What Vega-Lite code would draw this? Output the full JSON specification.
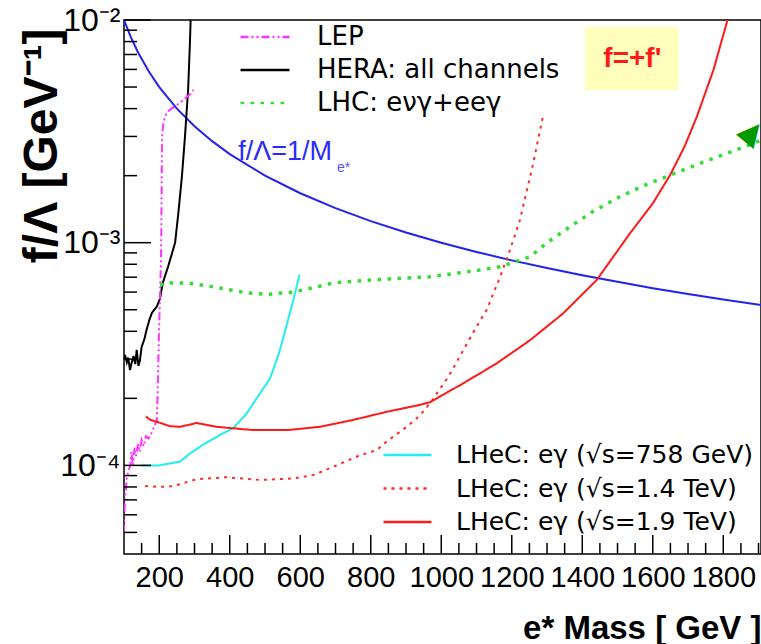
{
  "$schema": "https://vega.github.io/schema/vega-lite/v6.json",
  "width": 637,
  "height": 534,
  "autosize": {"type": "none"},
  "padding": {"left": 124, "top": 20, "right": 0, "bottom": 90},
  "background": "white",
  "config": {"view": {"stroke": "black", "strokeWidth": 1.5}, "axis": {"grid": false}},
  "datasets": {
    "notes": [{"t": "f=+f'", "m": 1542, "f": 0.00668}],
    "xminor": [{"m": 150, "f": 0.00004}, {"m": 250, "f": 0.00004}, {"m": 300, "f": 0.00004}, {"m": 350, "f": 0.00004}, {"m": 450, "f": 0.00004}, {"m": 500, "f": 0.00004}, {"m": 550, "f": 0.00004}, {"m": 650, "f": 0.00004}, {"m": 700, "f": 0.00004}, {"m": 750, "f": 0.00004}, {"m": 850, "f": 0.00004}, {"m": 900, "f": 0.00004}, {"m": 950, "f": 0.00004}, {"m": 1050, "f": 0.00004}, {"m": 1100, "f": 0.00004}, {"m": 1150, "f": 0.00004}, {"m": 1250, "f": 0.00004}, {"m": 1300, "f": 0.00004}, {"m": 1350, "f": 0.00004}, {"m": 1450, "f": 0.00004}, {"m": 1500, "f": 0.00004}, {"m": 1550, "f": 0.00004}, {"m": 1650, "f": 0.00004}, {"m": 1700, "f": 0.00004}, {"m": 1750, "f": 0.00004}, {"m": 1850, "f": 0.00004}, {"m": 1900, "f": 0.00004}],
    "xmajor": [{"m": 200, "f": 0.00004}, {"m": 400, "f": 0.00004}, {"m": 600, "f": 0.00004}, {"m": 800, "f": 0.00004}, {"m": 1000, "f": 0.00004}, {"m": 1200, "f": 0.00004}, {"m": 1400, "f": 0.00004}, {"m": 1600, "f": 0.00004}, {"m": 1800, "f": 0.00004}],
    "yminor": [{"m": 100, "f": 0.00005}, {"m": 100, "f": 0.00006}, {"m": 100, "f": 0.00007}, {"m": 100, "f": 0.00008}, {"m": 100, "f": 0.00009}, {"m": 100, "f": 0.0002}, {"m": 100, "f": 0.0003}, {"m": 100, "f": 0.0004}, {"m": 100, "f": 0.0005}, {"m": 100, "f": 0.0006}, {"m": 100, "f": 0.0007}, {"m": 100, "f": 0.0008}, {"m": 100, "f": 0.0009}, {"m": 100, "f": 0.002}, {"m": 100, "f": 0.003}, {"m": 100, "f": 0.004}, {"m": 100, "f": 0.005}, {"m": 100, "f": 0.006}, {"m": 100, "f": 0.007}, {"m": 100, "f": 0.008}, {"m": 100, "f": 0.009}],
    "ymajor": [{"m": 100, "f": 0.0001}, {"m": 100, "f": 0.001}, {"m": 100, "f": 0.01}]
  },
  "data": {"values": [
    {"s": "B", "m": 100, "f": 0.01}, {"s": "B", "m": 120, "f": 0.008333}, {"s": "B", "m": 140, "f": 0.007143}, {"s": "B", "m": 170, "f": 0.005882}, {"s": "B", "m": 200, "f": 0.005}, {"s": "B", "m": 250, "f": 0.004}, {"s": "B", "m": 300, "f": 0.003333}, {"s": "B", "m": 350, "f": 0.002857}, {"s": "B", "m": 400, "f": 0.0025}, {"s": "B", "m": 500, "f": 0.002}, {"s": "B", "m": 600, "f": 0.001667}, {"s": "B", "m": 700, "f": 0.001429}, {"s": "B", "m": 800, "f": 0.00125}, {"s": "B", "m": 900, "f": 0.001111}, {"s": "B", "m": 1000, "f": 0.001}, {"s": "B", "m": 1100, "f": 0.000909}, {"s": "B", "m": 1200, "f": 0.000833}, {"s": "B", "m": 1300, "f": 0.000769}, {"s": "B", "m": 1400, "f": 0.000714}, {"s": "B", "m": 1500, "f": 0.000667}, {"s": "B", "m": 1600, "f": 0.000625}, {"s": "B", "m": 1700, "f": 0.000588}, {"s": "B", "m": 1800, "f": 0.000556}, {"s": "B", "m": 1910, "f": 0.000524},

    {"s": "HERA", "m": 100, "f": 0.0003}, {"s": "HERA", "m": 103, "f": 0.000313}, {"s": "HERA", "m": 108, "f": 0.00029}, {"s": "HERA", "m": 112, "f": 0.000305}, {"s": "HERA", "m": 117, "f": 0.000268}, {"s": "HERA", "m": 122, "f": 0.00029}, {"s": "HERA", "m": 127, "f": 0.00031}, {"s": "HERA", "m": 132, "f": 0.000285}, {"s": "HERA", "m": 136, "f": 0.00033}, {"s": "HERA", "m": 141, "f": 0.00028}, {"s": "HERA", "m": 145, "f": 0.000295}, {"s": "HERA", "m": 150, "f": 0.00034}, {"s": "HERA", "m": 158, "f": 0.00037}, {"s": "HERA", "m": 164, "f": 0.000406}, {"s": "HERA", "m": 172, "f": 0.00045}, {"s": "HERA", "m": 179, "f": 0.000483}, {"s": "HERA", "m": 186, "f": 0.0005}, {"s": "HERA", "m": 193, "f": 0.000516}, {"s": "HERA", "m": 202, "f": 0.00056}, {"s": "HERA", "m": 210, "f": 0.00066}, {"s": "HERA", "m": 225, "f": 0.00078}, {"s": "HERA", "m": 245, "f": 0.001}, {"s": "HERA", "m": 255, "f": 0.0014}, {"s": "HERA", "m": 264, "f": 0.00196}, {"s": "HERA", "m": 273, "f": 0.003}, {"s": "HERA", "m": 282, "f": 0.0049}, {"s": "HERA", "m": 287, "f": 0.0079}, {"s": "HERA", "m": 289, "f": 0.01},

    {"s": "LEP", "m": 99.5, "f": 0.00005}, {"s": "LEP", "m": 101, "f": 0.00006}, {"s": "LEP", "m": 103, "f": 0.000072}, {"s": "LEP", "m": 106, "f": 0.00008}, {"s": "LEP", "m": 108, "f": 0.000088}, {"s": "LEP", "m": 113, "f": 0.000095}, {"s": "LEP", "m": 118, "f": 0.0001}, {"s": "LEP", "m": 121, "f": 0.000115}, {"s": "LEP", "m": 125, "f": 0.0001}, {"s": "LEP", "m": 130, "f": 0.00012}, {"s": "LEP", "m": 134, "f": 0.00011}, {"s": "LEP", "m": 140, "f": 0.000125}, {"s": "LEP", "m": 144, "f": 0.000115}, {"s": "LEP", "m": 150, "f": 0.00013}, {"s": "LEP", "m": 156, "f": 0.000122}, {"s": "LEP", "m": 162, "f": 0.000135}, {"s": "LEP", "m": 170, "f": 0.000132}, {"s": "LEP", "m": 178, "f": 0.00014}, {"s": "LEP", "m": 186, "f": 0.00015}, {"s": "LEP", "m": 193, "f": 0.00016}, {"s": "LEP", "m": 195, "f": 0.0002}, {"s": "LEP", "m": 197, "f": 0.00028}, {"s": "LEP", "m": 199, "f": 0.00038}, {"s": "LEP", "m": 201, "f": 0.0005}, {"s": "LEP", "m": 203, "f": 0.00065}, {"s": "LEP", "m": 205, "f": 0.00085}, {"s": "LEP", "m": 206, "f": 0.0012}, {"s": "LEP", "m": 207, "f": 0.002}, {"s": "LEP", "m": 208, "f": 0.003}, {"s": "LEP", "m": 212, "f": 0.0035}, {"s": "LEP", "m": 220, "f": 0.0038}, {"s": "LEP", "m": 230, "f": 0.00395}, {"s": "LEP", "m": 250, "f": 0.00415}, {"s": "LEP", "m": 268, "f": 0.00437}, {"s": "LEP", "m": 285, "f": 0.0046}, {"s": "LEP", "m": 297, "f": 0.00485},

    {"s": "LHC", "m": 202, "f": 0.000645}, {"s": "LHC", "m": 230, "f": 0.00066}, {"s": "LHC", "m": 278, "f": 0.00066}, {"s": "LHC", "m": 350, "f": 0.000635}, {"s": "LHC", "m": 448, "f": 0.000595}, {"s": "LHC", "m": 505, "f": 0.000586}, {"s": "LHC", "m": 580, "f": 0.0006}, {"s": "LHC", "m": 640, "f": 0.00063}, {"s": "LHC", "m": 694, "f": 0.00066}, {"s": "LHC", "m": 800, "f": 0.00068}, {"s": "LHC", "m": 968, "f": 0.000703}, {"s": "LHC", "m": 1100, "f": 0.00075}, {"s": "LHC", "m": 1167, "f": 0.00078}, {"s": "LHC", "m": 1223, "f": 0.000835}, {"s": "LHC", "m": 1252, "f": 0.000865}, {"s": "LHC", "m": 1300, "f": 0.001}, {"s": "LHC", "m": 1365, "f": 0.00118}, {"s": "LHC", "m": 1430, "f": 0.00138}, {"s": "LHC", "m": 1507, "f": 0.00161}, {"s": "LHC", "m": 1580, "f": 0.00182}, {"s": "LHC", "m": 1649, "f": 0.00201}, {"s": "LHC", "m": 1750, "f": 0.00232}, {"s": "LHC", "m": 1848, "f": 0.00265}, {"s": "LHC", "m": 1910, "f": 0.0029},

    {"s": "C758", "m": 150, "f": 0.0001}, {"s": "C758", "m": 200, "f": 0.0001}, {"s": "C758", "m": 259, "f": 0.000104}, {"s": "C758", "m": 287, "f": 0.000113}, {"s": "C758", "m": 325, "f": 0.000124}, {"s": "C758", "m": 372, "f": 0.000137}, {"s": "C758", "m": 410, "f": 0.000147}, {"s": "C758", "m": 448, "f": 0.000171}, {"s": "C758", "m": 486, "f": 0.000211}, {"s": "C758", "m": 514, "f": 0.000245}, {"s": "C758", "m": 540, "f": 0.00032}, {"s": "C758", "m": 562, "f": 0.00043}, {"s": "C758", "m": 580, "f": 0.00055}, {"s": "C758", "m": 598, "f": 0.00072},

    {"s": "R14", "m": 160, "f": 0.0000807}, {"s": "R14", "m": 200, "f": 0.00008}, {"s": "R14", "m": 240, "f": 0.0000807}, {"s": "R14", "m": 306, "f": 0.0000867}, {"s": "R14", "m": 391, "f": 0.0000885}, {"s": "R14", "m": 486, "f": 0.000086}, {"s": "R14", "m": 580, "f": 0.0000874}, {"s": "R14", "m": 637, "f": 0.0000905}, {"s": "R14", "m": 703, "f": 0.0001}, {"s": "R14", "m": 769, "f": 0.000111}, {"s": "R14", "m": 817, "f": 0.000117}, {"s": "R14", "m": 845, "f": 0.000128}, {"s": "R14", "m": 902, "f": 0.000149}, {"s": "R14", "m": 940, "f": 0.000168}, {"s": "R14", "m": 968, "f": 0.00019}, {"s": "R14", "m": 1020, "f": 0.00025}, {"s": "R14", "m": 1063, "f": 0.00033}, {"s": "R14", "m": 1100, "f": 0.00042}, {"s": "R14", "m": 1129, "f": 0.0005}, {"s": "R14", "m": 1167, "f": 0.000703}, {"s": "R14", "m": 1195, "f": 0.00093}, {"s": "R14", "m": 1223, "f": 0.00126}, {"s": "R14", "m": 1261, "f": 0.00228}, {"s": "R14", "m": 1290, "f": 0.0038},

    {"s": "R19", "m": 162, "f": 0.000166}, {"s": "R19", "m": 175, "f": 0.00016}, {"s": "R19", "m": 193, "f": 0.000157}, {"s": "R19", "m": 230, "f": 0.00015}, {"s": "R19", "m": 259, "f": 0.000149}, {"s": "R19", "m": 306, "f": 0.000155}, {"s": "R19", "m": 363, "f": 0.000149}, {"s": "R19", "m": 467, "f": 0.000144}, {"s": "R19", "m": 562, "f": 0.000144}, {"s": "R19", "m": 656, "f": 0.000149}, {"s": "R19", "m": 750, "f": 0.00016}, {"s": "R19", "m": 845, "f": 0.000174}, {"s": "R19", "m": 940, "f": 0.000187}, {"s": "R19", "m": 968, "f": 0.000192}, {"s": "R19", "m": 1063, "f": 0.000234}, {"s": "R19", "m": 1157, "f": 0.000287}, {"s": "R19", "m": 1252, "f": 0.000365}, {"s": "R19", "m": 1346, "f": 0.000482}, {"s": "R19", "m": 1441, "f": 0.00068}, {"s": "R19", "m": 1535, "f": 0.0011}, {"s": "R19", "m": 1600, "f": 0.0015}, {"s": "R19", "m": 1649, "f": 0.00201}, {"s": "R19", "m": 1690, "f": 0.0027}, {"s": "R19", "m": 1725, "f": 0.00368}, {"s": "R19", "m": 1772, "f": 0.00596}, {"s": "R19", "m": 1812, "f": 0.01}
  ]},
  "encoding": {
    "x": {
      "field": "m", "type": "quantitative", "title": "e* Mass [ GeV ]",
      "scale": {"domain": [100, 1907], "nice": false, "zero": false},
      "axis": {
        "orient": "bottom", "title": "e* Mass [ GeV ]",
        "values": [200, 400, 600, 800, 1000, 1200, 1400, 1600, 1800],
        "format": "d",
        "labelFont": "Liberation Sans", "labelFontSize": 29, "labelColor": "black",
        "labelPadding": 9, "labelOverlap": false, "labelFlush": false, "labelBound": false,
        "ticks": false, "domain": false,
        "titleFont": "Liberation Sans", "titleFontSize": 33, "titleFontWeight": "bold", "titleColor": "black",
        "titleAnchor": "end", "titleAlign": "right", "titleBaseline": "alphabetic", "titleX": 637, "titleY": 84
      }
    },
    "y": {
      "field": "f", "type": "quantitative", "title": "f/Λ [GeV⁻¹]",
      "scale": {"type": "log", "domain": [0.00004, 0.01], "nice": false},
      "axis": {
        "orient": "left", "title": "f/Λ [GeV⁻¹]",
        "values": [0.0001, 0.001, 0.01],
        "labelExpr": "datum.value > 0.0099 ? '10⁻²' : datum.value > 0.00099 ? '10⁻³' : '10⁻⁴'",
        "labelFont": "Liberation Sans", "labelFontSize": 32, "labelColor": "black",
        "labelPadding": 4, "labelOverlap": false, "labelFlush": false, "labelBound": false,
        "ticks": false, "domain": false,
        "titleFont": "Liberation Sans", "titleFontSize": 48, "titleFontWeight": "bold", "titleColor": "black",
        "titleAngle": -90, "titleAnchor": "end", "titleAlign": "right", "titleBaseline": "alphabetic", "titleX": -68, "titleY": 8
      }
    }
  },
  "layer": [
    {
      "transform": [{"filter": "datum.s == 'B' && datum.m == 100"}],
      "mark": {"type": "rect", "fill": "#ffffbb"},
      "encoding": {
        "x": {"datum": 1408, "type": "quantitative"}, "x2": {"datum": 1672},
        "y": {"datum": 0.0093, "type": "quantitative"}, "y2": {"datum": 0.00485}
      }
    },
    {
      "data": {"name": "notes"},
      "mark": {"type": "text", "font": "Liberation Sans", "fontSize": 28, "fontWeight": "bold", "color": "#ff1a1a", "align": "center", "baseline": "middle"},
      "encoding": {"text": {"field": "t"}}
    },
    {
      "transform": [{"filter": "datum.s == 'B'"}],
      "mark": {"type": "line", "color": "#2222f0", "strokeWidth": 2, "clip": true},
      "encoding": {}
    },
    {
      "transform": [{"filter": "datum.s == 'B' && datum.m == 100"}],
      "mark": {"type": "text", "text": "f/Λ=1/M", "font": "Liberation Sans", "fontSize": 27, "color": "#2a2aff", "align": "left", "baseline": "alphabetic"},
      "encoding": {"x": {"datum": 424, "type": "quantitative"}, "y": {"datum": 0.00235, "type": "quantitative"}}
    },
    {
      "transform": [{"filter": "datum.s == 'B' && datum.m == 100"}],
      "mark": {"type": "text", "text": "e*", "font": "Liberation Sans", "fontSize": 14, "color": "#5555ff", "align": "left", "baseline": "alphabetic"},
      "encoding": {"x": {"datum": 704, "type": "quantitative"}, "y": {"datum": 0.00207, "type": "quantitative"}}
    },
    {
      "transform": [{"filter": "datum.s == 'LEP' || datum.s == 'HERA' || datum.s == 'LHC'"}],
      "mark": {"type": "line", "clip": true},
      "encoding": {
        "color": {"field": "s", "type": "nominal", "scale": {"domain": ["LEP", "HERA", "LHC"], "range": ["#ff33ff", "#000000", "#33dd33"]},
          "legend": {"orient": "none", "legendX": 115, "legendY": 2, "title": null, "padding": 0, "symbolType": "stroke", "symbolSize": 2400, "symbolStrokeWidth": 2.5, "clipHeight": 30, "rowPadding": 3, "labelOffset": 26, "labelFont": "DejaVu Sans", "labelFontSize": 26, "labelColor": "black", "labelLimit": 500,
            "labelExpr": "datum.label == 'HERA' ? 'HERA: all channels' : datum.label == 'LHC' ? 'LHC: eνγ+eeγ' : datum.label"}},
        "strokeDash": {"field": "s", "type": "nominal", "scale": {"domain": ["LEP", "HERA", "LHC"], "range": [[8, 3, 2, 3, 2, 3], [1, 0], [3.5, 6.5]]},
          "legend": {"orient": "none", "legendX": 115, "legendY": 2, "title": null, "padding": 0, "symbolType": "stroke", "symbolSize": 2400, "symbolStrokeWidth": 2.5, "clipHeight": 30, "rowPadding": 3, "labelOffset": 26, "labelFont": "DejaVu Sans", "labelFontSize": 26, "labelColor": "black", "labelLimit": 500,
            "labelExpr": "datum.label == 'HERA' ? 'HERA: all channels' : datum.label == 'LHC' ? 'LHC: eνγ+eeγ' : datum.label"}},
        "strokeWidth": {"condition": {"test": "datum.s == 'LHC'", "value": 3.5}, "value": 2}
      }
    },
    {
      "transform": [{"filter": "datum.s == 'C758' || datum.s == 'R14' || datum.s == 'R19'"}],
      "mark": {"type": "line", "clip": true, "strokeWidth": 2},
      "encoding": {
        "color": {"field": "s", "type": "nominal", "scale": {"domain": ["C758", "R14", "R19"], "range": ["#22eeee", "#ff2a2a", "#ff1a1a"]},
          "legend": {"orient": "none", "legendX": 258, "legendY": 420, "title": null, "padding": 0, "symbolType": "stroke", "symbolSize": 2304, "symbolStrokeWidth": 2.5, "clipHeight": 30, "rowPadding": 3.5, "labelOffset": 23, "labelFont": "DejaVu Sans", "labelFontSize": 25, "labelColor": "black", "labelLimit": 500,
            "labelExpr": "datum.label == 'C758' ? 'LHeC: eγ (√s=758 GeV)' : datum.label == 'R14' ? 'LHeC: eγ (√s=1.4 TeV)' : 'LHeC: eγ (√s=1.9 TeV)'"}},
        "strokeDash": {"field": "s", "type": "nominal", "scale": {"domain": ["C758", "R14", "R19"], "range": [[1, 0], [3, 5], [1, 0]]},
          "legend": {"orient": "none", "legendX": 258, "legendY": 420, "title": null, "padding": 0, "symbolType": "stroke", "symbolSize": 2304, "symbolStrokeWidth": 2.5, "clipHeight": 30, "rowPadding": 3.5, "labelOffset": 23, "labelFont": "DejaVu Sans", "labelFontSize": 25, "labelColor": "black", "labelLimit": 500,
            "labelExpr": "datum.label == 'C758' ? 'LHeC: eγ (√s=758 GeV)' : datum.label == 'R14' ? 'LHeC: eγ (√s=1.4 TeV)' : 'LHeC: eγ (√s=1.9 TeV)'"}}
      }
    },
    {
      "transform": [{"filter": "datum.s == 'LHC' && datum.m == 1910"}],
      "mark": {"type": "text", "text": "▲", "font": "DejaVu Sans", "fontSize": 30, "color": "#009900", "angle": 40, "align": "center", "baseline": "middle"},
      "encoding": {"x": {"datum": 1884, "type": "quantitative"}, "y": {"datum": 0.00314, "type": "quantitative"}}
    },
    {
      "data": {"name": "xminor"},
      "mark": {"type": "tick", "orient": "vertical", "color": "black", "opacity": 1, "thickness": 1.5, "size": 11, "yOffset": -5.5}
    },
    {
      "data": {"name": "xmajor"},
      "mark": {"type": "tick", "orient": "vertical", "color": "black", "opacity": 1, "thickness": 1.5, "size": 19, "yOffset": -9.5}
    },
    {
      "data": {"name": "yminor"},
      "mark": {"type": "tick", "orient": "horizontal", "color": "black", "opacity": 1, "thickness": 1.5, "size": 13, "xOffset": 6.5}
    },
    {
      "data": {"name": "ymajor"},
      "mark": {"type": "tick", "orient": "horizontal", "color": "black", "opacity": 1, "thickness": 1.5, "size": 27, "xOffset": 13.5}
    }
  ],
  "resolve": {"scale": {"color": "independent", "strokeDash": "independent"}}
}
